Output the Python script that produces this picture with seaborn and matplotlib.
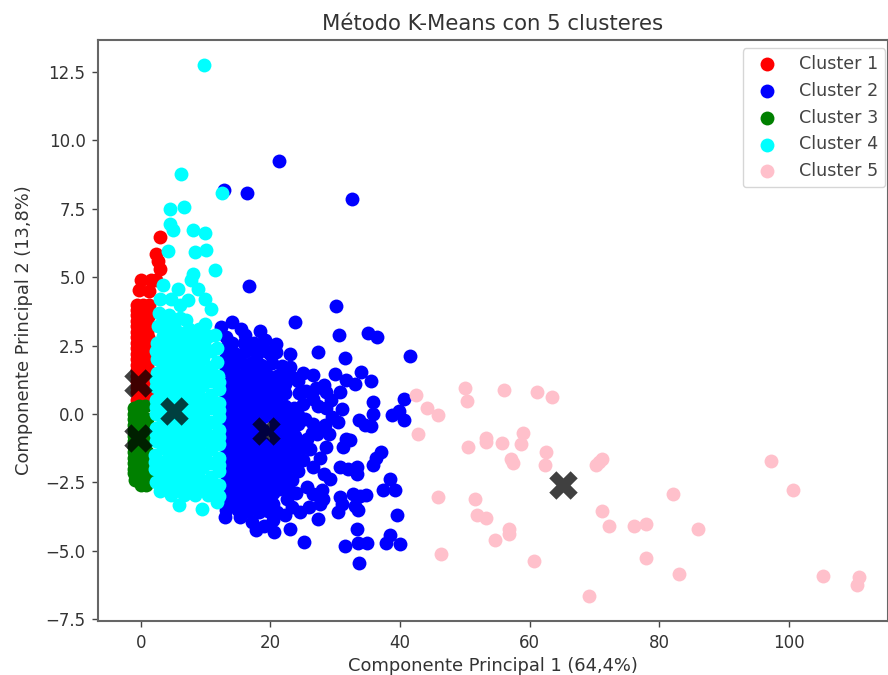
import pandas as pd
import matplotlib
matplotlib.use("Agg")
import matplotlib.pyplot as plt
import seaborn as sns

titulo = "Método K-Means con 5 clusteres"
eje_x = "Componente Principal 1 (64,4%)"
eje_y = "Componente Principal 2 (13,8%)"
nombres = ["Cluster 1", "Cluster 2", "Cluster 3", "Cluster 4", "Cluster 5"]
colores = ["red", "blue", "green", "cyan", "pink"]

cluster1 = [(2.9, 6.45), (2.3, 5.86), (2.9, 5.31), (2.6, 5.6), (0.1, 4.88), (1.6, 4.88), (-0.2, 4.54), (1.2, 4.5),
            (2.4, 4.9), (-0.65, 3.97), (0.4, 4.0), (1.3, 4.0), (-0.65, 3.6), (0.3, 3.6), (1.2, 3.6),
            (-0.65, 3.2), (0.2, 3.2), (1.2, 3.2), (-0.65, 2.8), (0.2, 2.8), (1.1, 2.8), (-0.65, 2.4), (0.1, 2.4),
            (1.1, 2.4), (-0.65, 2.0), (0.1, 2.0), (1.1, 2.0), (-0.65, 1.6), (0.1, 1.6), (1.1, 1.6), (-0.65, 1.2),
            (0.1, 1.2), (1.0, 1.2), (-0.65, 0.8), (0.1, 0.8), (1.0, 0.8), (-0.65, 0.5), (0.1, 0.5), (1.0, 0.5),
            (-0.65, 3.8), (-0.65, 3.4), (-0.65, 3.0), (-0.65, 2.6), (-0.65, 2.2), (-0.65, 1.8), (-0.65, 1.4), (-0.65, 1.0),
            (1.0, 3.4), (1.0, 3.0), (1.0, 2.6), (1.0, 2.2), (1.0, 1.8), (1.0, 1.4), (1.0, 1.0)]

cluster2 = [(21.3, 9.23), (12.8, 8.2), (16.4, 8.07), (32.6, 7.86), (16.7, 4.67), (30.1, 3.93), (23.8, 3.36),
            (30.6, 2.9), (35.1, 2.97), (36.5, 2.81), (27.4, 2.25), (31.5, 2.06), (41.5, 2.12), (18.4, 3.03),
            (14.0, 3.36), (12.4, 3.18), (15.4, 3.1), (20.8, 2.55), (20.8, 2.25), (23.0, 2.18), (34.0, 1.53), (35.6, 1.2),
            (29.9, 1.47), (26.6, 1.41), (31.7, 1.23), (33.0, 1.1), (40.6, 0.56), (38.7, -0.05), (39.8, 0.1), (40.6, -0.23),
            (35.8, 0.44), (35.8, 0.0), (33.7, -0.23), (34.6, -0.4), (35.6, -0.45), (31.0, 0.19), (30.5, -0.3),
            (28.6, 0.8), (30.7, 0.8), (32.3, -0.97), (31.2, -1.21), (31.6, -0.9), (28.6, -1.21), (37.0, -1.39),
            (35.8, -1.88), (36.3, -1.6), (33.4, -1.94), (30.7, -1.94), (32.0, -2.0), (33.4, -2.2), (38.4, -2.37), (37.4, -2.79),
            (39.2, -2.77), (34.8, -2.98), (32.8, -2.92), (33.8, -3.0), (30.7, -3.04), (31.0, -3.28), (33.0, -3.38),
            (39.5, -3.71), (33.4, -4.2), (38.4, -4.44), (27.4, -3.83), (23.0, -4.2), (26.6, -2.92), (28.1, -3.1),
            (27.9, -2.79), (29.2, -2.37), (26.6, -1.94), (25.6, -2.67), (24.5, -3.59), (20.4, -3.89), (17.8, -4.26),
            (13.0, -3.77), (15.3, -3.77), (17.1, -3.95), (31.5, -4.84), (33.6, -5.46), (34.9, -4.73), (33.5, -4.73),
            (37.8, -4.73), (40.0, -4.77), (25.2, -4.7), (30.4, -3.6), (33.5, -3.53), (27.6, -3.3), (20.5, -4.3),
            (19.0, -4.1), (22.3, -3.7), (26.0, -3.4), (28.2, -2.2), (27.7, -1.6), (26.1, -1.3), (25.6, -0.9), (27.2, -0.75),
            (28.4, -0.4), (29.5, -0.1), (29.4, 0.5), (28.2, 1.05), (27.0, 0.95), (25.5, 0.85), (25.0, 0.35), (25.4, -0.2),
            (28.6, 0.2), (27.8, -0.5), (24.0, -2.9), (23.4, -3.4), (22.6, -3.1), (20.4, -2.9), (24.3, 1.2), (25.0, 1.5),
            (13.2, 2.8), (16.1, 2.9), (17.5, 2.6), (19.2, 2.7), (13.1, 2.4), (14.7, 2.2), (16.2, 2.3), (17.9, 2.2),
            (19.3, 2.3), (13.0, 2.0), (15.5, 1.9), (17.0, 1.85), (18.6, 1.8), (20.3, 1.85), (21.8, 1.75), (23.1, 1.7),
            (13.2, 1.6), (14.6, 1.5), (16.2, 1.55), (17.8, 1.45), (19.4, 1.5), (21.0, 1.4), (22.5, 1.45), (23.6, 1.3),
            (13.1, 1.1), (15.0, 1.05), (16.6, 1.1), (18.2, 1.0), (19.8, 1.05), (21.3, 0.95), (22.2, 0.75), (13.2, 0.7),
            (14.6, 0.6), (16.1, 0.65), (17.7, 0.55), (19.3, 0.6), (20.9, 0.5), (22.2, 0.3), (23.6, 0.2), (13.1, 0.2),
            (15.0, 0.15), (16.6, 0.2), (18.2, 0.1), (19.8, 0.15), (21.3, 0.05), (22.8, -0.1), (24.2, -0.35), (13.2, -0.3),
            (14.6, -0.35), (16.1, -0.25), (17.7, -0.4), (20.8, -0.4), (22.3, -0.5), (23.8, -0.8), (13.1, -0.8),
            (15.0, -0.8), (16.6, -0.75), (18.2, -0.9), (20.8, -0.95), (22.4, -1.0), (24.0, -1.3), (13.2, -1.25), (14.6, -1.3),
            (16.1, -1.2), (17.7, -1.35), (19.3, -1.25), (20.9, -1.4), (22.5, -1.45), (25.0, -1.7), (13.1, -1.75),
            (15.0, -1.7), (16.6, -1.7), (18.2, -1.8), (19.8, -1.7), (21.3, -1.85), (23.0, -1.9), (24.3, -2.1), (13.2, -2.2),
            (14.6, -2.2), (16.1, -2.15), (17.7, -2.25), (19.3, -2.2), (20.9, -2.3), (22.4, -2.4), (13.1, -2.65),
            (15.0, -2.65), (16.6, -2.6), (18.2, -2.7), (19.8, -2.65), (21.3, -2.75), (23.0, -2.8), (13.2, -3.1),
            (14.6, -3.1), (16.1, -3.1), (17.7, -3.15), (19.3, -3.1), (13.2, -3.5), (15.0, -3.5), (16.6, -3.55), (18.2, -3.6),
            (19.6, -3.55), (21.0, -3.6)]

cluster2_denso = [(14.0, 2.6), (14.1, 1.85), (16.0, 2.6), (18.4, 2.4), (20.0, 2.2), (14.0, 1.35), (15.6, 1.3), (17.2, 1.25),
                  (18.9, 1.25), (20.5, 1.15), (22.2, 1.1), (14.0, 0.85), (15.6, 0.85), (17.2, 0.8), (18.9, 0.8), (20.5, 0.75),
                  (14.0, 0.4), (15.6, 0.4), (17.2, 0.35), (18.9, 0.35), (20.5, 0.3), (21.9, 0.2), (14.0, -0.05), (15.6, -0.1),
                  (17.2, -0.1), (18.9, -0.1), (20.5, -0.15), (22.0, -0.25), (23.6, -0.4), (14.0, -0.55), (15.6, -0.55), (17.2, -0.6),
                  (18.9, -0.6), (20.5, -0.65), (22.0, -0.75), (23.6, -1.0), (25.0, -1.2), (14.0, -1.0), (15.6, -1.0), (17.2, -1.05),
                  (18.9, -1.05), (20.5, -1.15), (22.0, -1.2), (23.6, -1.5), (14.0, -1.5), (15.6, -1.5), (17.2, -1.5), (18.9, -1.5),
                  (20.5, -1.65), (22.2, -1.7), (23.8, -1.75), (14.0, -1.95), (15.6, -1.95), (17.2, -2.0), (18.9, -2.0), (20.5, -2.05),
                  (22.2, -2.15), (23.4, -2.4), (14.0, -2.4), (15.6, -2.4), (17.2, -2.45), (18.9, -2.45), (20.5, -2.5), (22.2, -2.6),
                  (14.0, -2.9), (15.6, -2.85), (17.2, -2.9), (18.9, -2.9), (14.0, -3.3), (15.6, -3.3), (17.2, -3.35), (18.9, -3.35),
                  (20.4, -3.3), (26.6, 0.55), (24.4, 0.75), (24.2, -0.05), (26.6, -0.35), (26.4, -0.7), (29.0, -0.75), (27.4, 0.3)]

cluster3 = [(-1.0, 0.2), (0.1, 0.2), (-1.0, -0.2), (0.1, -0.2), (0.9, -0.2), (-1.0, -0.6), (0.1, -0.6), (0.9, -0.6),
            (-1.0, -1.0), (0.1, -1.0), (1.0, -1.0), (-1.0, -1.4), (0.1, -1.4), (1.0, -1.4), (-1.0, -1.8), (0.1, -1.8),
            (1.0, -1.8), (-1.0, -2.15), (0.1, -2.15), (1.1, -2.15), (-0.93, -2.43), (0.1, -2.61), (0.87, -2.6),
            (-1.0, 0.0), (-1.0, -0.4), (-1.0, -0.8), (-1.0, -1.2), (-1.0, -1.6), (-1.0, -2.0), (-0.3, 0.28), (0.6, 0.28)]

cluster4 = [(9.7, 12.75), (6.2, 8.76), (12.5, 8.07), (4.5, 7.5), (6.6, 7.58), (4.57, 6.96), (4.9, 6.71), (8.07, 6.74),
            (9.87, 6.62), (4.2, 5.96), (8.33, 5.92), (10.1, 5.98), (11.4, 5.25), (8.07, 5.13), (7.8, 4.88),
            (8.85, 4.58), (9.87, 4.2), (10.9, 3.82), (3.44, 4.7), (5.76, 4.58), (7.3, 4.15), (2.93, 4.2), (4.6, 4.2), (6.0, 4.0),
            (2.8, 3.7), (4.4, 3.6), (6.0, 3.5), (7.4, 3.1), (9.9, 3.3), (2.6, 3.2), (4.2, 3.1), (5.8, 3.0), (8.6, 2.95),
            (11.4, 2.9), (2.5, 2.6), (4.3, 2.55), (6.2, 2.6), (8.0, 2.6), (9.8, 2.6), (11.7, 2.4), (2.5, 2.0), (4.2, 2.05),
            (6.0, 2.0), (7.8, 2.0), (9.6, 2.05), (11.8, 1.9), (2.5, 1.5), (4.3, 1.5), (6.2, 1.55), (8.0, 1.5), (9.9, 1.5),
            (11.9, 1.4), (2.4, 1.0), (4.2, 1.05), (6.0, 1.0), (7.8, 1.0), (9.6, 1.05), (12.0, 0.9), (2.4, 0.5), (4.3, 0.5),
            (6.2, 0.55), (8.0, 0.5), (9.9, 0.5), (12.1, 0.4), (2.3, 0.0), (4.2, 0.05), (6.0, 0.0), (7.8, 0.0), (9.6, 0.05),
            (12.1, -0.1), (2.3, -0.5), (4.3, -0.5), (6.2, -0.45), (8.0, -0.5), (9.9, -0.5), (12.1, -0.6), (2.3, -1.0),
            (4.2, -0.95), (6.0, -1.0), (7.8, -1.0), (9.6, -0.95), (12.1, -1.1), (2.2, -1.5), (4.3, -1.5), (6.2, -1.45),
            (8.0, -1.5), (9.9, -1.5), (12.1, -1.6), (2.2, -2.0), (4.2, -1.95), (6.0, -2.0), (7.8, -2.0), (9.6, -1.95),
            (12.0, -2.1), (2.4, -2.5), (4.3, -2.5), (6.2, -2.45), (8.0, -2.5), (9.9, -2.5), (12.0, -2.6), (2.9, -2.8),
            (4.6, -2.95), (6.6, -2.95), (8.3, -2.95), (10.4, -2.95), (11.7, -3.22), (5.9, -3.34), (9.5, -3.46), (12.0, -3.0)]

cluster4_denso = [(3.4, 3.45), (5.2, 3.3), (7.0, 3.45), (3.4, 2.85), (5.2, 2.8), (7.0, 2.85), (9.0, 3.1), (10.6, 2.85),
                  (3.4, 2.3), (5.2, 2.3), (7.0, 2.3), (8.9, 2.3), (10.8, 2.3), (3.4, 1.75), (5.2, 1.8), (7.0, 1.75),
                  (8.9, 1.8), (10.8, 1.7), (3.4, 1.25), (5.2, 1.25), (7.0, 1.25), (8.9, 1.25), (10.8, 1.2), (3.4, 0.75),
                  (5.2, 0.75), (7.0, 0.75), (8.9, 0.75), (10.8, 0.7), (3.4, 0.25), (5.2, 0.25), (7.0, 0.25), (8.9, 0.25),
                  (10.8, 0.2), (3.4, -0.25), (5.2, -0.25), (7.0, -0.25), (8.9, -0.25), (10.8, -0.3), (3.4, -0.75), (5.2, -0.75),
                  (7.0, -0.75), (8.9, -0.75), (10.8, -0.8), (3.4, -1.25), (5.2, -1.25), (7.0, -1.25), (8.9, -1.25), (10.8, -1.3),
                  (3.4, -1.75), (5.2, -1.75), (7.0, -1.75), (8.9, -1.75), (10.8, -1.8), (3.4, -2.25), (5.2, -2.25), (7.0, -2.25),
                  (8.9, -2.25), (10.8, -2.3), (3.6, -2.7), (5.2, -2.75), (7.0, -2.75), (8.9, -2.75), (10.8, -2.75), (2.3, 2.3),
                  (2.3, 1.25), (2.3, 0.25), (2.3, -0.75), (2.2, -1.75), (12.1, 1.15), (12.1, 0.15), (12.1, -0.85), (12.1, -1.85)]

cluster5 = [(42.5, 0.69), (50.0, 0.95), (50.3, 0.48), (56.0, 0.87), (61.2, 0.81), (63.4, 0.61), (44.2, 0.23), (45.8, -0.03),
            (42.8, -0.74), (50.5, -1.22), (53.2, -0.87), (53.2, -1.02), (55.8, -1.08), (59.0, -0.68), (58.7, -1.09),
            (62.6, -1.39), (57.1, -1.65), (57.4, -1.81), (62.3, -1.87), (71.1, -1.65), (70.3, -1.87), (70.7, -1.75),
            (97.3, -1.73), (100.6, -2.78), (45.8, -3.03), (51.6, -3.10), (51.9, -3.69), (53.2, -3.82), (56.8, -4.2),
            (56.8, -4.4), (54.6, -4.6), (71.1, -3.56), (72.2, -4.09), (76.1, -4.08), (78.0, -4.01), (82.1, -2.91),
            (86.0, -4.21), (46.4, -5.13), (60.7, -5.38), (78.0, -5.25), (83.0, -5.85), (105.2, -5.91), (110.8, -5.96),
            (110.5, -6.26), (69.2, -6.64)]

centroides_x = [-0.4, 19.4, -0.4, 5.1, 65.1]
centroides_y = [1.13, -0.64, -0.88, 0.1, -2.6]

clusters = [cluster1, cluster2 + cluster2_denso, cluster3, cluster4 + cluster4_denso, cluster5]

sns.set_style("ticks")
fig = plt.figure(figsize=(8.88, 6.75), dpi=100)
ax = fig.add_axes([98 / 888, 54 / 675, 790 / 888, 581 / 675])

for puntos, nombre, color in zip(clusters, nombres, colores):
    df = pd.DataFrame(puntos, columns=["x", "y"])
    sns.scatterplot(data=df, x="x", y="y", s=100, color=color, linewidth=0, label=nombre, ax=ax)

sns.scatterplot(x=centroides_x, y=centroides_y, s=420, marker="X", color="black", alpha=0.75, linewidth=0, ax=ax)

ax.set_xlim(-6.6, 115.3)
ax.set_ylim(-7.57, 13.67)
ax.set_xticks([0, 20, 40, 60, 80, 100])
ax.set_yticks([-7.5, -5, -2.5, 0, 2.5, 5, 7.5, 10, 12.5])
ax.tick_params(labelsize=12, width=1, length=4, pad=5, color="#444444", labelcolor="#333333")
ax.set_title(titulo, fontsize=15.3, color="#333333", pad=7)
ax.set_xlabel(eje_x, fontsize=12.9, color="#333333", labelpad=4)
ax.set_ylabel(eje_y, fontsize=12.9, color="#333333", labelpad=9)
for s in ax.spines.values():
    s.set_color("#666666")
    s.set_linewidth(1.5)

handles, labels = ax.get_legend_handles_labels()
ax.legend(handles[:5], labels[:5], loc="upper right", bbox_to_anchor=(787 / 790, 1 - 8 / 581),
          borderaxespad=0, fontsize=12.6, labelcolor="#444444", frameon=True, labelspacing=0.5)

fig.savefig("out.png", dpi=100)
